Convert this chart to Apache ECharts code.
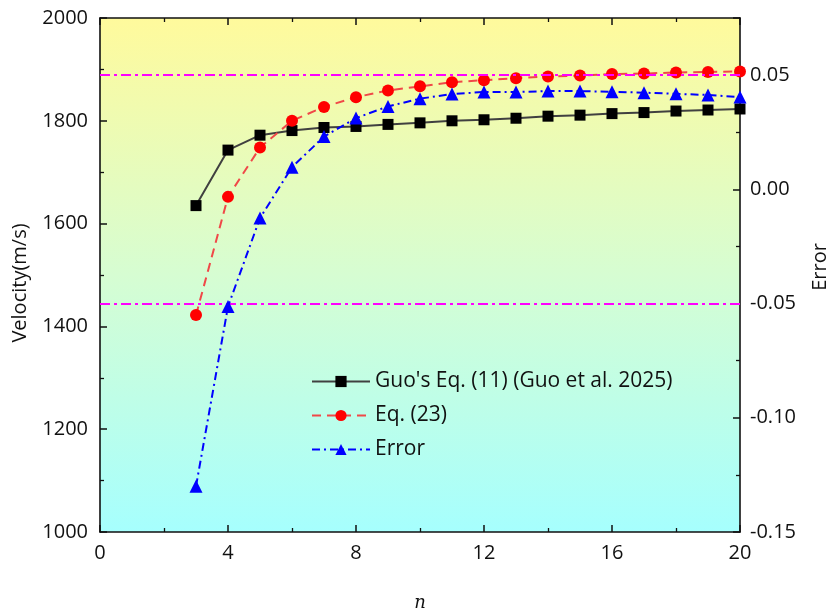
<!DOCTYPE html>
<html>
<head>
<meta charset="utf-8">
<script src="https://cdn.jsdelivr.net/npm/echarts@6/dist/echarts.min.js"></script>
<style>
  html, body { margin: 0; padding: 0; background: #ffffff; }
  #chart { width: 832px; height: 612px; }
</style>
</head>
<body>
<div id="chart"></div>
<script>
// Number of terms n
const nValues = [3, 4, 5, 6, 7, 8, 9, 10, 11, 12, 13, 14, 15, 16, 17, 18, 19, 20];
// Velocity (m/s) from Guo's Eq. (11)
const guoVelocity = [1635, 1743, 1772, 1781, 1787, 1789, 1793, 1796, 1800, 1802, 1805, 1809, 1811, 1814, 1816, 1819, 1821, 1823];
// Velocity (m/s) from Eq. (23)
const eq23Velocity = [1422, 1652, 1748, 1800, 1827, 1846, 1859, 1867, 1875, 1879, 1883, 1886, 1888, 1891, 1892, 1894, 1895, 1896];
// Relative error between the two
const relError = [-0.130, -0.0513, -0.0126, 0.0097, 0.0231, 0.0312, 0.0363, 0.0397, 0.0417, 0.0426, 0.0426, 0.0430, 0.0430, 0.0427, 0.0423, 0.0418, 0.0413, 0.0404];
// Reference error bounds
const errorBounds = [0.05, -0.05];

const legendNames = ["Guo's Eq. (11) (Guo et al. 2025)", "Eq. (23)", "Error"];

const FONT = 'Open Sans';
const pair = (xs, ys) => xs.map((x, i) => [x, ys[i]]);

const chart = echarts.init(document.getElementById('chart'), null, { renderer: 'canvas' });

const axisLineStyle = { color: '#111', width: 1.6 };
const majorTick = { show: true, inside: true, length: 7, lineStyle: { color: '#111', width: 1.5 } };
const minorTick = { show: true, splitNumber: 2, length: 4, lineStyle: { color: '#111', width: 1.3 } };

chart.setOption({
  animation: false,
  textStyle: { fontFamily: FONT },
  grid: {
    left: 100, right: 92, top: 18, bottom: 80,
    outerBoundsMode: 'none',
    containLabel: false,
    show: true,
    borderWidth: 0,
    backgroundColor: {
      type: 'linear', x: 0, y: 0, x2: 0, y2: 1,
      colorStops: [
        { offset: 0, color: '#fffa9c' },
        { offset: 0.5, color: '#d6fdd2' },
        { offset: 1, color: '#a6fffe' }
      ]
    }
  },
  legend: {
    left: 306, top: 366,
    orient: 'vertical',
    itemWidth: 58, itemHeight: 14, itemGap: 13,
    textStyle: { fontFamily: FONT, fontSize: 21, lineHeight: 20, color: '#111' },
    data: legendNames
  },
  xAxis: [{
    type: 'value', min: 0, max: 20, interval: 4,
    position: 'bottom',
    name: 'n', nameLocation: 'middle', nameGap: 62,
    nameTextStyle: { fontFamily: 'DejaVu Serif', fontStyle: 'italic', fontSize: 18, color: '#111' },
    axisLine: { show: true, onZero: false, lineStyle: axisLineStyle },
    axisTick: majorTick,
    minorTick: minorTick,
    axisLabel: { fontFamily: FONT, fontSize: 20, color: '#111', margin: 11 },
    splitLine: { show: false }
  }, {
    type: 'value', min: 0, max: 20, interval: 4,
    position: 'top',
    axisLine: { show: true, onZero: false, lineStyle: axisLineStyle },
    axisTick: majorTick,
    minorTick: minorTick,
    axisLabel: { show: false },
    splitLine: { show: false }
  }],
  yAxis: [{
    type: 'value', min: 1000, max: 2000, interval: 200,
    position: 'left',
    name: 'Velocity(m/s)', nameLocation: 'middle', nameGap: 70, nameRotate: 90,
    nameTextStyle: { fontFamily: FONT, fontSize: 20, color: '#111', padding: [0, 16, 0, 0] },
    axisLine: { show: true, onZero: false, lineStyle: axisLineStyle },
    axisTick: majorTick,
    minorTick: minorTick,
    axisLabel: { fontFamily: FONT, fontSize: 20, color: '#111', margin: 12, formatter: v => String(v) },
    splitLine: { show: false }
  }, {
    type: 'value', min: -0.15, max: 0.075, interval: 0.05,
    position: 'right',
    name: 'Error', nameLocation: 'middle', nameGap: 70, nameRotate: 90,
    nameTextStyle: { fontFamily: FONT, fontSize: 20, color: '#111', padding: [0, 0, 0, 16] },
    axisLine: { show: true, onZero: false, lineStyle: axisLineStyle },
    axisTick: majorTick,
    minorTick: minorTick,
    axisLabel: {
      fontFamily: FONT, fontSize: 20, color: '#111', margin: 10,
      showMaxLabel: false,
      formatter: v => (Math.abs(v) < 1e-9 ? '0.00' : v.toFixed(2))
    },
    splitLine: { show: false }
  }],
  series: [{
    name: legendNames[0],
    type: 'line',
    xAxisIndex: 0, yAxisIndex: 0,
    data: pair(nValues, guoVelocity),
    symbol: 'rect', symbolSize: 11,
    itemStyle: { color: '#000000' },
    lineStyle: { color: '#404040', width: 2 },
    z: 3
  }, {
    name: legendNames[1],
    type: 'line',
    xAxisIndex: 0, yAxisIndex: 0,
    data: pair(nValues, eq23Velocity),
    symbol: 'circle', symbolSize: 12,
    itemStyle: { color: '#ff0000' },
    lineStyle: { color: '#f04848', width: 2, type: [9, 6] },
    z: 4
  }, {
    name: legendNames[2],
    type: 'line',
    xAxisIndex: 0, yAxisIndex: 1,
    data: pair(nValues, relError),
    symbol: 'triangle', symbolSize: 13,
    itemStyle: { color: '#0000ff' },
    lineStyle: { color: '#0000ff', width: 2, type: [8, 4, 2, 4] },
    markLine: {
      silent: true,
      symbol: 'none',
      label: { show: false },
      lineStyle: { color: '#ff00ff', width: 2, type: [10, 4, 3, 4] },
      data: errorBounds.map(v => ({ yAxis: v }))
    },
    z: 5
  }]
});
</script>
</body>
</html>
